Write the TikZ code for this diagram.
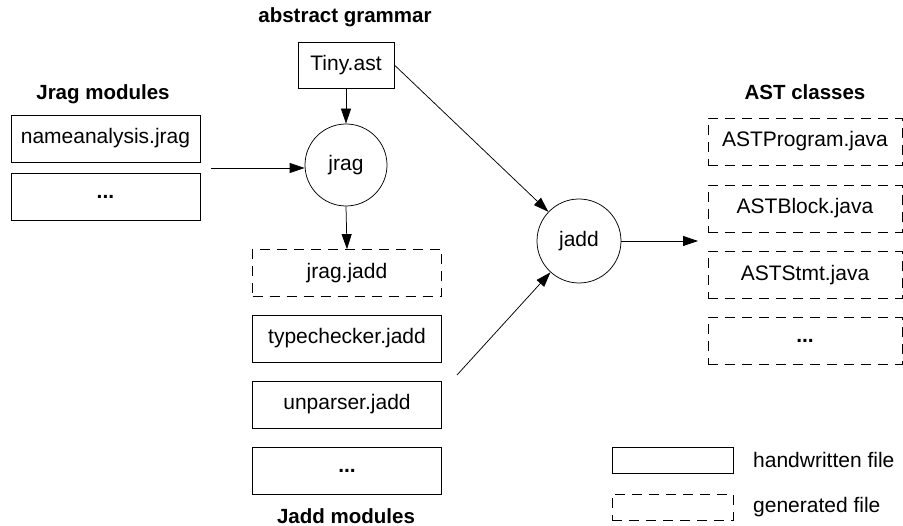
\documentclass[tikz,border=0pt]{standalone}
\usepackage{fontspec}
\setmainfont{Liberation Sans}
\usetikzlibrary{arrows.meta}
\begin{document}
\begin{tikzpicture}[x=1pt,y=-1pt,
  every node/.style={font=\fontsize{21}{24}\selectfont, inner sep=0pt},
  filebox/.style={draw, line width=0.75pt, minimum width=#1, minimum height=47pt},
  filebox/.default=189pt,
  genbox/.style={filebox=#1, dash pattern=on 10pt off 7pt},
  genbox/.default=189pt,
  proc/.style={draw, circle, line width=0.75pt, minimum size=#1},
  heading/.style={font=\bfseries\fontsize{20.5}{24}\selectfont},
  conn/.style={line width=0.75pt, -{Triangle[length=15pt,width=10pt]}}
]
\useasboundingbox (0,0) rectangle (903,526);
% headings
\node[heading] (hgram) at (345,17) {abstract grammar};
\node[heading] (hjrag) at (103,94) {Jrag modules};
\node[heading] (hjadd) at (346,516) {Jadd modules};
\node[heading] (hast) at (805,92) {AST classes};
% grammar
\node[filebox=96pt, minimum height=46pt] (tiny) at (346,65) {Tiny.ast};
% jrag modules
\node[filebox] (name) at (105.5,138.5) {nameanalysis.jrag};
\node[filebox] (jdots) at (105.5,197) {\bfseries...};
% processors
\node[proc=82pt] (jrag) at (346,165) {jrag};
\node[proc=84pt] (jadd) at (579,241) {jadd};
% jadd modules
\node[genbox] (jragjadd) at (347,273) {jrag.jadd};
\node[filebox] (tc) at (347,338.5) {typechecker.jadd};
\node[filebox] (up) at (347,404.5) {unparser.jadd};
\node[filebox] (adots) at (347,470.5) {\bfseries...};
% AST classes
\node[genbox=194pt] (prog) at (805,141.5) {ASTProgram.java};
\node[genbox=194pt] (block) at (805,208.5) {ASTBlock.java};
\node[genbox=194pt] (stmt) at (805,275) {ASTStmt.java};
\node[genbox=194pt] (cdots) at (805,341) {\bfseries...};
% legend
\node[filebox=121pt, minimum height=26pt] (lhand) at (672.5,460) {};
\node[genbox=121pt, minimum height=26pt] (lgen) at (672.5,507) {};
\node[anchor=west] (thand) at (753,460) {handwritten file};
\node[anchor=west] (tgen) at (753,507) {generated file};
% connectors
\coordinate (jin) at (211,168);
\coordinate (jaddin) at (457,375);
\coordinate (out) at (698,241);
\draw[conn] (jin) -- (jin -| jrag.west);
\draw[conn] (tiny.south) -- (jrag.north);
\draw[conn] (jrag.south) -- (jragjadd.north);
\draw[conn] (tiny.east) -- (jadd);
\draw[conn] (jaddin) -- (jadd);
\draw[conn] (jadd.east) -- (out);
\end{tikzpicture}
\end{document}
